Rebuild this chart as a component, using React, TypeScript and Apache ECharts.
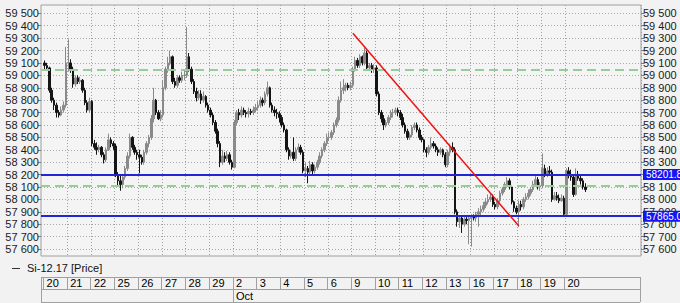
import React, { useEffect, useRef } from "react";
import * as echarts from "echarts";

// Trading days shown on the date row
const dayLabels = ["20", "21", "22", "25", "26", "27", "28", "29", "2", "3", "4", "5", "6", "9", "10", "11", "12", "13", "16", "17", "18", "19", "20"];
const monthLabel = "Oct";
const monthStartDay = 8;

// Price ticks (both sides)
const priceTicks = [57600, 57700, 57800, 57900, 58000, 58100, 58200, 58300, 58400, 58500, 58600, 58700, 58800, 58900, 59000, 59100, 59200, 59300, 59400, 59500];

const firstOpen = 59100;
// closes per trading day (10 bars a day, last day partial)
const closes: number[][] = [
  [59080, 59060, 58880, 58800, 58760, 58700, 58680, 58720, 58760, 59100],
  [59100, 59050, 58930, 58980, 58950, 58960, 58880, 58780, 58720, 58790],
  [58450, 58420, 58400, 58420, 58360, 58320, 58400, 58480, 58450, 58430],
  [58200, 58150, 58120, 58180, 58250, 58350, 58500, 58420, 58380, 58360],
  [58340, 58300, 58380, 58450, 58500, 58650, 58800, 58700, 58650, 58680],
  [58900, 59050, 59100, 59150, 58950, 58920, 58980, 58960, 59000, 59000],
  [59150, 59050, 58950, 58870, 58820, 58850, 58800, 58830, 58760, 58720],
  [58680, 58620, 58550, 58450, 58300, 58350, 58330, 58360, 58300, 58260],
  [58620, 58700, 58680, 58720, 58700, 58690, 58710, 58700, 58720, 58740],
  [58760, 58800, 58780, 58850, 58900, 58760, 58720, 58700, 58690, 58660],
  [58600, 58560, 58400, 58350, 58380, 58330, 58400, 58420, 58380, 58230],
  [58250, 58220, 58280, 58230, 58260, 58300, 58350, 58400, 58450, 58500],
  [58500, 58540, 58600, 58640, 58800, 58880, 58900, 58920, 58900, 58920],
  [59050, 59120, 59080, 59150, 59100, 59180, 59060, 59080, 59050, 59060],
  [58850, 58700, 58650, 58600, 58620, 58660, 58700, 58700, 58720, 58700],
  [58660, 58600, 58550, 58500, 58520, 58580, 58600, 58560, 58500, 58480],
  [58400, 58380, 58420, 58450, 58430, 58400, 58380, 58400, 58360, 58280],
  [58380, 58420, 58400, 57900, 57820, 57850, 57800, 57840, 57830, 57850],
  [57860, 57850, 57880, 57900, 57920, 57950, 57980, 58000, 58020, 57960],
  [57940, 57990, 58050, 58080, 58120, 58150, 58100, 57980, 57930, 57900],
  [57960, 57940, 58000, 58020, 58050, 58080, 58120, 58160, 58100, 58110],
  [58250, 58200, 58230, 58220, 58000, 58030, 58010, 57990, 58010, 57880],
  [58230, 58200, 58180, 58040, 58200, 58170, 58150, 58100, 58079],
];
const highs: number[][] = [
  [59120, 59100, 59070, 58900, 58820, 58780, 58720, 58750, 58790, 59230],
  [59290, 59130, 59070, 59000, 59000, 58990, 58970, 58900, 58800, 58820],
  [58800, 58480, 58460, 58440, 58430, 58380, 58420, 58530, 58500, 58470],
  [58450, 58220, 58190, 58200, 58270, 58380, 58530, 58510, 58440, 58400],
  [58400, 58360, 58400, 58470, 58520, 58680, 58900, 58810, 58720, 58720],
  [58960, 59070, 59150, 59200, 59160, 58980, 59000, 59000, 59030, 59040],
  [59390, 59180, 59070, 58970, 58900, 58880, 58880, 58870, 58840, 58780],
  [58740, 58700, 58640, 58570, 58470, 58400, 58380, 58390, 58380, 58320],
  [58640, 58720, 58730, 58750, 58740, 58720, 58740, 58730, 58750, 58770],
  [58790, 58830, 58820, 58870, 58950, 58910, 58780, 58750, 58730, 58710],
  [58680, 58620, 58570, 58420, 58400, 58500, 58420, 58450, 58440, 58400],
  [58300, 58270, 58310, 58300, 58280, 58320, 58380, 58420, 58470, 58530],
  [58540, 58560, 58620, 58660, 58830, 58950, 58970, 58940, 58940, 58950],
  [59070, 59150, 59140, 59170, 59160, 59230, 59200, 59100, 59100, 59090],
  [59080, 58870, 58720, 58680, 58640, 58680, 58720, 58730, 58740, 58740],
  [58720, 58690, 58620, 58570, 58540, 58600, 58620, 58620, 58580, 58520],
  [58490, 58420, 58440, 58500, 58470, 58450, 58420, 58420, 58410, 58380],
  [58400, 58450, 58460, 58420, 57920, 57870, 57870, 57860, 57870, 57870],
  [57880, 57880, 57900, 57930, 57950, 57980, 58010, 58040, 58050, 58040],
  [57980, 58010, 58070, 58100, 58140, 58180, 58170, 58110, 57990, 57950],
  [57990, 57990, 58020, 58050, 58080, 58100, 58150, 58200, 58180, 58140],
  [58370, 58280, 58260, 58270, 58240, 58060, 58060, 58040, 58040, 58030],
  [58250, 58260, 58240, 58200, 58250, 58230, 58200, 58170, 58130],
];
const lows: number[][] = [
  [59050, 59040, 58860, 58780, 58720, 58660, 58660, 58670, 58700, 58740],
  [59030, 59020, 58900, 58910, 58930, 58930, 58860, 58760, 58700, 58700],
  [58430, 58400, 58360, 58380, 58340, 58290, 58300, 58390, 58420, 58400],
  [58180, 58100, 58070, 58090, 58160, 58230, 58330, 58400, 58360, 58320],
  [58210, 58280, 58280, 58360, 58420, 58480, 58620, 58680, 58640, 58630],
  [58660, 58880, 59020, 59080, 58930, 58900, 58900, 58940, 58940, 58960],
  [58980, 59030, 58930, 58850, 58790, 58800, 58770, 58780, 58740, 58700],
  [58660, 58600, 58530, 58420, 58260, 58280, 58300, 58310, 58280, 58240],
  [58250, 58600, 58640, 58660, 58680, 58660, 58660, 58680, 58680, 58700],
  [58720, 58740, 58750, 58760, 58830, 58740, 58700, 58670, 58650, 58620],
  [58580, 58540, 58380, 58320, 58330, 58310, 58310, 58380, 58360, 58210],
  [58180, 58130, 58200, 58200, 58210, 58240, 58280, 58330, 58380, 58430],
  [58470, 58480, 58520, 58580, 58620, 58780, 58850, 58870, 58880, 58880],
  [58900, 59030, 59060, 59060, 59080, 59080, 59040, 59040, 59020, 59020],
  [58830, 58680, 58620, 58560, 58580, 58600, 58640, 58660, 58680, 58670],
  [58640, 58580, 58530, 58480, 58480, 58500, 58560, 58540, 58480, 58460],
  [58380, 58340, 58360, 58400, 58410, 58380, 58350, 58360, 58340, 58260],
  [58260, 58350, 58380, 57880, 57780, 57770, 57730, 57780, 57800, 57640],
  [57620, 57830, 57820, 57780, 57870, 57900, 57930, 57960, 57980, 57940],
  [57920, 57920, 57970, 58030, 58060, 58100, 58080, 57960, 57900, 57880],
  [57780, 57910, 57920, 57980, 58000, 58030, 58060, 58100, 58080, 58070],
  [58090, 58180, 58180, 58190, 57980, 57990, 57990, 57970, 57980, 57860],
  [57870, 58170, 58150, 58020, 58030, 58150, 58120, 58080, 58060],
];

// Levels drawn on the chart
const blueLevels = [58201.8, 57865.0];
const greenLevels = [59043, 58107];
const lastPrice = 58079;
const trendStart = { bar: 131, price: 59340 };
const trendEnd = { bar: 201, price: 57785 };

const BARS_PER_DAY = 10;
const LEAD = 1;
const TOTAL_SLOTS = 253;
const Y_MIN = 57544;
const Y_MAX = 59567;

const FONT = "'Liberation Sans', Arial, sans-serif";

function fmtPrice(v: number) {
  const k = Math.floor(v / 1000);
  const r = Math.round(v - k * 1000);
  return k + " " + String(r).padStart(3, "0");
}

export default function App() {
  const ref = useRef<HTMLDivElement>(null);
  useEffect(() => {
    if (!ref.current) return;
    const chart = echarts.init(ref.current, undefined, { renderer: "svg" });

    const cats: string[] = [];
    for (let i = 0; i < TOTAL_SLOTS; i++) cats.push(String(i));
    const data: any[] = ["-"];
    let prev = firstOpen;
    closes.forEach((day, d) => {
      day.forEach((c, i) => {
        data.push([prev, c, lows[d][i], highs[d][i]]);
        prev = c;
      });
    });

    const isDayStart = (i: number) => i >= LEAD && (i - LEAD) % BARS_PER_DAY === 0 && (i - LEAD) / BARS_PER_DAY < dayLabels.length;
    const dayOf = (i: number) => (i - LEAD) / BARS_PER_DAY;
    const monthIdx = LEAD + monthStartDay * BARS_PER_DAY;

    const blue = "#2323dc";
    const green = "#98cc98";
    const tableLine = { color: "#a0a0a0", type: "solid", width: 1 };

    const markData: any[] = [];
    blueLevels.forEach((v) => {
      markData.push({
        yAxis: v,
        lineStyle: { color: blue, width: 2, type: "solid" },
        label: {
          show: true,
          position: "end",
          distance: 2,
          formatter: v.toFixed(1),
          color: "#ffffff",
          backgroundColor: "#1414f5",
          padding: [1, 4, 0, 3],
          fontSize: 10,
          fontFamily: FONT,
        },
      });
    });
    greenLevels.forEach((v) => {
      markData.push({
        yAxis: v,
        lineStyle: { color: green, width: 2, type: [9, 5] },
        label: { show: false },
      });
    });
    markData.push({
      yAxis: lastPrice,
      lineStyle: { opacity: 0, width: 0 },
      label: {
        show: true,
        position: "end",
        distance: 2,
        formatter: fmtPrice(lastPrice),
        color: "#000000",
        backgroundColor: "#ffffff",
        borderColor: "#8a8a8a",
        borderWidth: 1,
        padding: [1, 4, 0, 3],
        fontSize: 10.5,
        fontFamily: FONT,
      },
    });
    markData.push([
      { coord: [trendStart.bar, trendStart.price], lineStyle: { color: "#f01010", width: 1.5, type: "solid" }, label: { show: false } },
      { coord: [trendEnd.bar, trendEnd.price] },
    ]);

    const yAxisCommon = {
      type: "value",
      gridIndex: 0,
      min: Y_MIN,
      max: Y_MAX,
      axisLine: { show: false },
      axisTick: { show: true, length: 3, lineStyle: { color: "#808080" }, customValues: priceTicks },
      axisLabel: {
        customValues: priceTicks,
        formatter: (v: number) => fmtPrice(v),
        fontSize: 11,
        fontFamily: FONT,
        color: "#1a1a1a",
        margin: 2,
      },
    };

    const tableY = (gridIndex: number) => ({
      type: "value",
      gridIndex,
      min: 0,
      max: 1,
      interval: 1,
      axisLine: { show: false },
      axisTick: { show: false },
      axisLabel: { show: false },
      splitLine: { show: true, lineStyle: tableLine },
    });

    const option: any = {
      animation: false,
      backgroundColor: "#f2f2f2",
      grid: [
        { left: 41, right: 39, top: 5, height: 251, show: true, borderColor: "#a0a0a0", borderWidth: 1, backgroundColor: "#f4f4f4" },
        { left: 41, right: 40, top: 277, height: 12, show: false },
        { left: 41, right: 40, top: 289, height: 13, show: false },
      ],
      xAxis: [
        {
          type: "category",
          gridIndex: 0,
          data: cats,
          boundaryGap: true,
          axisLine: { show: false },
          axisTick: { show: false },
          axisLabel: { show: false },
          splitLine: {
            show: true,
            interval: (i: number) => isDayStart(i) && i > LEAD,
            lineStyle: { color: "#a0a0a0", type: [1, 2], width: 1 },
          },
        },
        {
          type: "category",
          gridIndex: 1,
          data: cats,
          boundaryGap: true,
          axisLine: { show: false },
          axisTick: { show: false },
          splitLine: { show: true, interval: (i: number) => i === 0 || isDayStart(i), lineStyle: tableLine },
          axisLabel: {
            show: true,
            inside: true,
            interval: (i: number) => isDayStart(i),
            formatter: (v: string) => dayLabels[dayOf(Number(v))] ?? "",
            align: "left",
            margin: 1,
            padding: [0, 0, 0, 2],
            fontSize: 11,
            fontFamily: FONT,
            color: "#000000",
          },
        },
        {
          type: "category",
          gridIndex: 2,
          data: cats,
          boundaryGap: true,
          axisLine: { show: false },
          axisTick: { show: false },
          splitLine: { show: true, interval: (i: number) => i === 0 || i === monthIdx, lineStyle: tableLine },
          axisLabel: {
            show: true,
            inside: true,
            interval: (i: number) => i === monthIdx,
            formatter: () => monthLabel,
            align: "left",
            margin: 1,
            padding: [0, 0, 0, 2],
            fontSize: 11,
            fontFamily: FONT,
            color: "#000000",
          },
        },
      ],
      yAxis: [
        {
          ...yAxisCommon,
          position: "left",
          splitLine: { show: true, lineStyle: { color: "#a8a8a8", type: [1, 2], width: 1 } },
        },
        {
          ...yAxisCommon,
          position: "right",
          splitLine: { show: false },
        },
        tableY(1),
        tableY(2),
      ],
      series: [
        {
          type: "candlestick",
          xAxisIndex: 0,
          yAxisIndex: 0,
          data,
          barWidth: 2,
          itemStyle: {
            color: "#8a8a8a",
            color0: "#141414",
            borderColor: "#8a8a8a",
            borderColor0: "#141414",
            borderWidth: 1,
          },
          markLine: {
            silent: true,
            symbol: ["none", "none"],
            animation: false,
            data: markData,
          },
        },
      ],
      graphic: [
        { type: "line", shape: { x1: 12, y1: 268.5, x2: 20, y2: 268.5 }, style: { stroke: "#333333", lineWidth: 1 } },
        {
          type: "text",
          x: 27,
          y: 268,
          style: { text: "Si-12.17 [Price]", fontSize: 11, fontFamily: FONT, fill: "#111111", verticalAlign: "middle", align: "left" },
        },
      ],
    };
    chart.setOption(option);
    return () => chart.dispose();
  }, []);

  return (
    <div
      ref={ref}
      style={{ position: "fixed", left: 0, top: 0, width: 680, height: 303, background: "#f2f2f2" }}
    />
  );
}
